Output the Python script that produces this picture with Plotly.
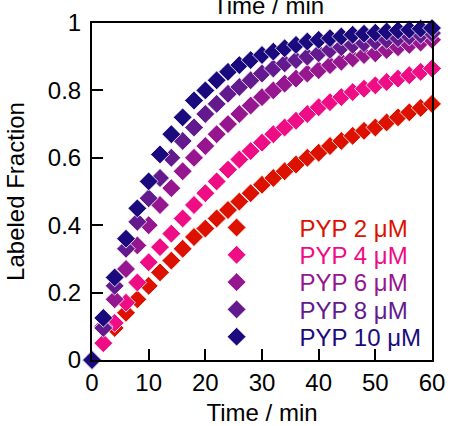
import plotly.graph_objects as go

time_min = [0, 2, 4, 6, 8, 10, 12, 14, 16, 18, 20, 22, 24, 26, 28, 30,
            32, 34, 36, 38, 40, 42, 44, 46, 48, 50, 52, 54, 56, 58, 60]

pyp_2 = [0, 0.05, 0.095, 0.14, 0.18, 0.22, 0.26, 0.295, 0.33, 0.365, 0.39,
         0.42, 0.445, 0.47, 0.495, 0.52, 0.54, 0.56, 0.58, 0.60, 0.615,
         0.635, 0.65, 0.665, 0.68, 0.69, 0.705, 0.72, 0.735, 0.748, 0.76]
pyp_4 = [0, 0.05, 0.11, 0.17, 0.23, 0.29, 0.335, 0.375, 0.42, 0.46, 0.495,
         0.53, 0.565, 0.595, 0.62, 0.645, 0.67, 0.69, 0.71, 0.73, 0.75,
         0.765, 0.78, 0.795, 0.805, 0.815, 0.825, 0.835, 0.845, 0.855, 0.865]
pyp_6 = [0, 0.10, 0.18, 0.27, 0.34, 0.40, 0.46, 0.51, 0.56, 0.60, 0.635,
         0.67, 0.70, 0.73, 0.755, 0.78, 0.80, 0.82, 0.835, 0.85, 0.86,
         0.875, 0.885, 0.895, 0.905, 0.91, 0.92, 0.928, 0.935, 0.942, 0.95]
pyp_8 = [0, 0.095, 0.22, 0.33, 0.41, 0.48, 0.54, 0.60, 0.65, 0.69, 0.73,
         0.76, 0.79, 0.81, 0.83, 0.85, 0.865, 0.88, 0.89, 0.90, 0.91,
         0.92, 0.928, 0.935, 0.94, 0.945, 0.95, 0.955, 0.96, 0.965, 0.97]
pyp_10 = [0, 0.125, 0.245, 0.36, 0.45, 0.53, 0.61, 0.67, 0.72, 0.77, 0.80,
          0.83, 0.855, 0.875, 0.89, 0.905, 0.915, 0.925, 0.935, 0.945, 0.95,
          0.955, 0.96, 0.965, 0.968, 0.971, 0.975, 0.978, 0.98, 0.983, 0.985]

series = [
    ("PYP 2 μM", pyp_2, "#DD1100"),
    ("PYP 4 μM", pyp_4, "#EE0D85"),
    ("PYP 6 μM", pyp_6, "#95168F"),
    ("PYP 8 μM", pyp_8, "#621A8E"),
    ("PYP 10 μM", pyp_10, "#1B0A7E"),
]

FONT = "Liberation Sans, Arial, sans-serif"
FS = 24

# legend rows (paper coords, one small legend per series)
legend_rows = [0.392, 0.311, 0.230, 0.149, 0.068]

fig = go.Figure()
for i, (name, vals, col) in enumerate(series):
    lg = "legend" if i == 0 else f"legend{i + 1}"
    fig.add_trace(go.Scatter(
        x=time_min, y=vals, mode="markers",
        name=f"<span style='color:{col}'>{name}</span>",
        legend=lg, showlegend=True,
        cliponaxis=False,
        marker=dict(symbol="diamond", size=14.5, color=col,
                    line=dict(color="white", width=0.8)),
    ))

axis_common = dict(
    showgrid=False, zeroline=False, showline=True, linecolor="black",
    linewidth=2, mirror=True, ticks="inside", ticklen=11, tickwidth=2,
    automargin=False,
    tickcolor="black", tickfont=dict(size=FS, color="black", family=FONT),
)

fig.update_xaxes(range=[0, 60], tickvals=[0, 10, 20, 30, 40, 50, 60],
                 title=dict(text="Time / min", font=dict(size=FS, color="black", family=FONT),
                            standoff=10),
                 **axis_common)
fig.update_yaxes(range=[0, 1], tickvals=[0, 0.2, 0.4, 0.6, 0.8, 1],
                 ticktext=["0", "0.2", "0.4", "0.6", "0.8", "1"],
                 ticklabelstandoff=4,
                 title=dict(text="Labeled Fraction", font=dict(size=FS, color="black", family=FONT),
                            standoff=16),
                 **axis_common)

fig.add_annotation(text="Time / min", xref="paper", yref="paper", x=0.52, y=1,
                   yanchor="middle", yshift=18, showarrow=False,
                   font=dict(size=FS, color="black", family=FONT))

layout_legends = {}
for i, yy in enumerate(legend_rows):
    key = "legend" if i == 0 else f"legend{i + 1}"
    layout_legends[key] = dict(
        x=0.24, y=yy, xanchor="left", yanchor="middle",
        bgcolor="rgba(0,0,0,0)", itemwidth=116,
        font=dict(size=24, family=FONT),
    )

fig.update_layout(
    width=452, height=426,
    margin=dict(l=92, r=20, t=23, b=66),
    plot_bgcolor="white", paper_bgcolor="white",
    showlegend=True,
    font=dict(family=FONT, size=FS, color="black"),
    **layout_legends,
)

fig.write_html("out.html")
